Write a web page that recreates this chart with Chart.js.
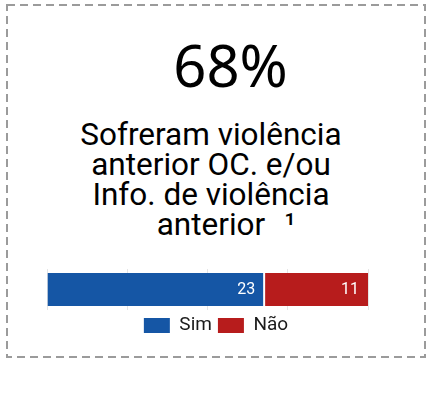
<!DOCTYPE html>
<html>
<head>
<meta charset="utf-8">
<script src="https://cdn.jsdelivr.net/npm/chart.js@4/dist/chart.umd.min.js"></script>
<style>
  html, body { margin: 0; padding: 0; background: #fff; }
  body { width: 446px; height: 395px; position: relative; overflow: hidden; }
  .frame { position: absolute; left: 0; top: 0; }
  .pct {
    position: absolute; left: 130px; top: 35.5px; width: 201px;
    font: 58px/58px "Noto Sans", sans-serif; color: #000; text-align: center;
  }
  .title {
    position: absolute; left: 8px; top: 119.6px; width: 406px;
    font: 31.5px/30.3px Roboto, sans-serif; color: #000; text-align: center;
    white-space: nowrap;
  }
  .title .fn { position: absolute; margin-left: 19px; }
  .chart-box { position: absolute; left: 8px; top: 259px; width: 416px; height: 86px; }
</style>
</head>
<body>
<svg class="frame" width="446" height="395">
  <rect x="7" y="5" width="418" height="352" fill="none" stroke="#9b9b9b" stroke-width="2" stroke-dasharray="8 5"/>
</svg>
<div class="pct">68%</div>
<div class="title">Sofreram violência<br>anterior OC. e/ou<br>Info. de violência<br>anterior<span class="fn">¹</span></div>
<div class="chart-box"><canvas id="kpiBar"></canvas></div>
<script>
const categories = ['Total'];
const seriesNames = ['Sim', 'Não'];
const simValues = [23];
const naoValues = [11];
const seriesColors = ['#1556a5', '#b71c1c'];

const xMax = simValues[0] + naoValues[0];

// white value text at the inner end of each segment
const barValueLabels = {
  id: 'barValueLabels',
  afterDatasetsDraw(chart) {
    const { ctx } = chart;
    ctx.save();
    ctx.font = '16px Roboto';
    ctx.fillStyle = '#fff';
    ctx.textAlign = 'right';
    ctx.textBaseline = 'middle';
    chart.data.datasets.forEach((ds, i) => {
      chart.getDatasetMeta(i).data.forEach((bar, j) => {
        ctx.fillText(String(ds.data[j]), bar.x - 9, bar.y);
      });
    });
    ctx.restore();
  }
};

new Chart(document.getElementById('kpiBar'), {
  type: 'bar',
  data: {
    labels: categories,
    datasets: [
      {
        label: seriesNames[0],
        data: simValues,
        backgroundColor: seriesColors[0],
        borderColor: '#fff',
        borderWidth: { top: 0, right: 1, bottom: 0, left: 0 },
        borderSkipped: false
      },
      {
        label: seriesNames[1],
        data: naoValues,
        backgroundColor: seriesColors[1],
        borderColor: '#fff',
        borderWidth: { top: 0, right: 0, bottom: 0, left: 1 },
        borderSkipped: false
      }
    ]
  },
  options: {
    indexAxis: 'y',
    responsive: true,
    maintainAspectRatio: false,
    animation: false,
    layout: { padding: { top: 10, left: 0, right: 0, bottom: 0 } },
    datasets: { bar: { categoryPercentage: 1, barPercentage: 0.8 } },
    scales: {
      x: {
        stacked: true,
        min: 0,
        max: xMax,
        ticks: { display: false, stepSize: xMax / 4 },
        grid: { drawTicks: false, color: 'rgba(0,0,0,0.1)' },
        border: { display: false }
      },
      y: {
        stacked: true,
        ticks: { display: false },
        grid: { display: false },
        border: { display: false },
        afterFit(scale) { scale.width = 39; }
      },
      y2: {
        type: 'linear',
        position: 'right',
        ticks: { display: false },
        grid: { display: false },
        border: { display: false },
        afterFit(scale) { scale.width = 56; }
      }
    },
    plugins: {
      title: { display: false },
      tooltip: { enabled: false },
      legend: {
        position: 'bottom',
        labels: {
          font: { family: 'Roboto', size: 19 },
          color: '#1a1a1a',
          boxWidth: 26,
          boxHeight: 15,
          padding: 6,
          generateLabels(chart) {
            return Chart.defaults.plugins.legend.labels.generateLabels(chart)
              .map(item => ({ ...item, lineWidth: 0 }));
          }
        }
      }
    }
  },
  plugins: [barValueLabels]
});
</script>
</body>
</html>
